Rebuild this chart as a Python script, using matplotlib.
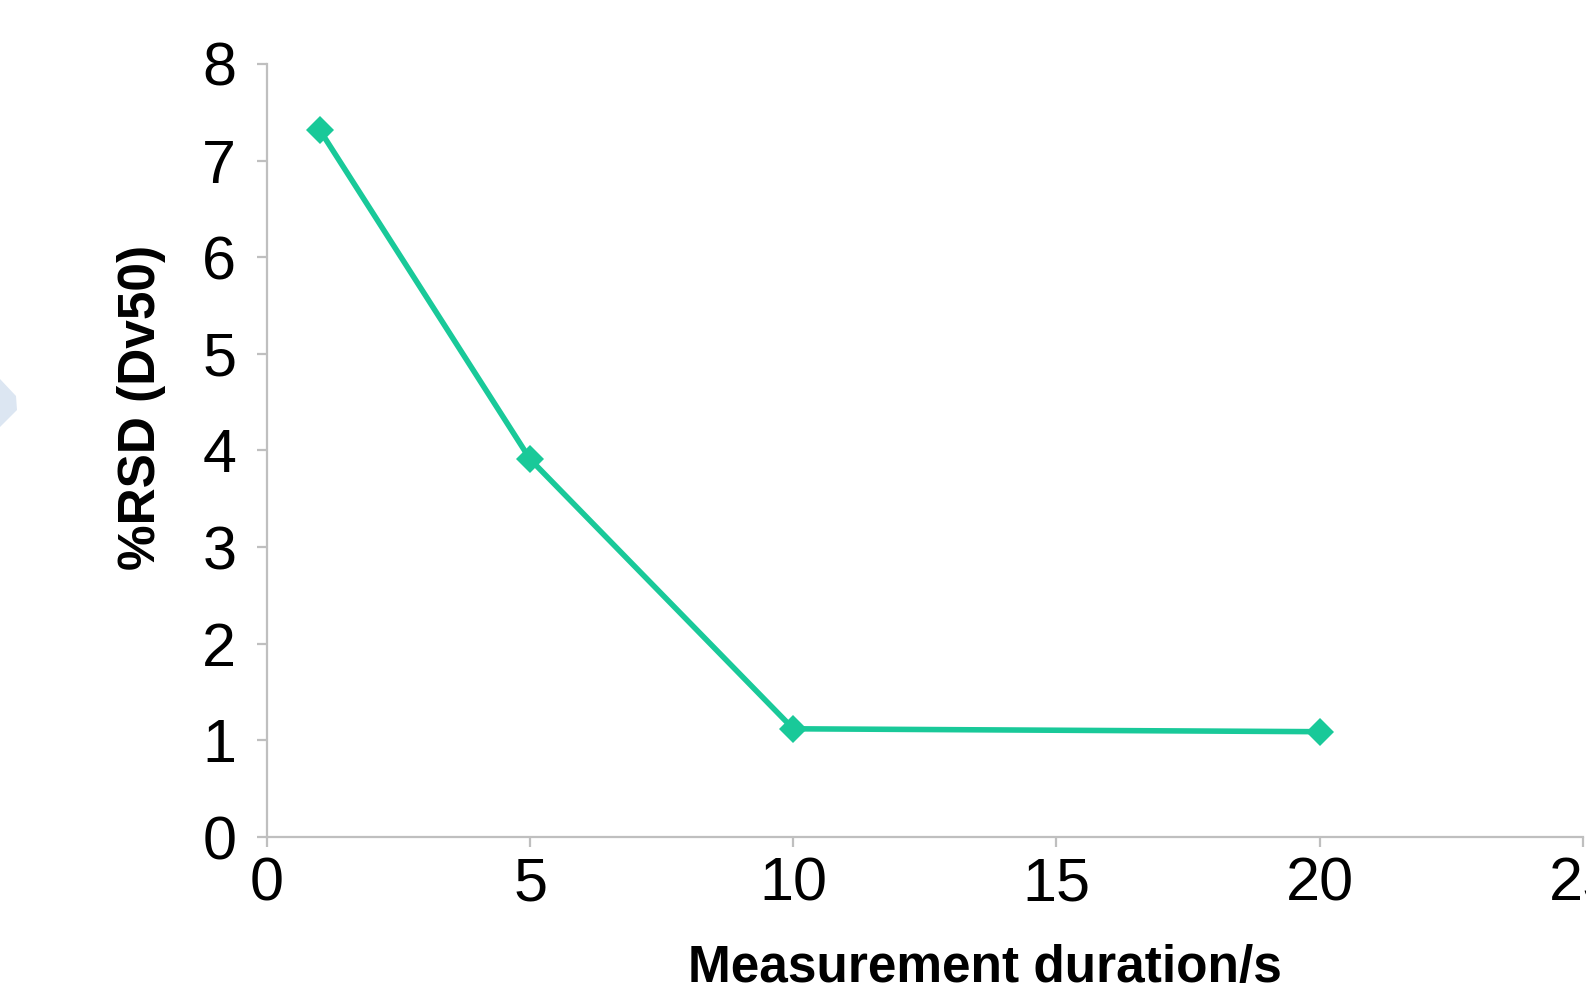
import matplotlib.pyplot as plt
from matplotlib.patches import Polygon

plt.rcParams['font.family'] = ['Liberation Sans', 'DejaVu Sans']

# measurement duration (s) vs %RSD of Dv50
duration = [1, 5, 10, 20]
rsd_dv50 = [7.32, 3.91, 1.12, 1.09]
x_ticks = [0, 5, 10, 15, 20, 25]
y_ticks = [0, 1, 2, 3, 4, 5, 6, 7, 8]

fig = plt.figure(figsize=(15.86, 9.98), dpi=100)
ax = fig.add_axes([0.1683, 0.1613, 0.8297, 0.7746])

line_col = '#19C999'
ax.plot(duration, rsd_dv50, color=line_col, linewidth=4, marker='D',
        markersize=14, markeredgewidth=0, solid_joinstyle='miter',
        clip_on=False)

ax.set_xlim(0, 25)
ax.set_ylim(0, 8)
ax.set_xticks(x_ticks)
ax.set_yticks(y_ticks)

axis_col = '#BFBFBF'
for side in ['top', 'right']:
    ax.spines[side].set_visible(False)
for side in ['left', 'bottom']:
    ax.spines[side].set_color(axis_col)
    ax.spines[side].set_linewidth(1.6)
ax.tick_params(axis='both', direction='out', length=7, width=1.6,
               color=axis_col, labelsize=44, labelcolor='black')
ax.tick_params(axis='x', pad=7)
ax.tick_params(axis='y', pad=15)

fig.text(0.621, 0.03, 'Measurement duration/s', ha='center', va='center',
         fontsize=37, fontweight='bold')
fig.text(0.089, 0.592, '%RSD (Dv50)', ha='center', va='center',
         rotation=90, fontsize=37, fontweight='bold')

# pale chevron cut off at the left edge
verts = [(x / 1586, 1 - y / 998) for x, y in [(0, 379), (16, 396), (17, 410), (0, 427)]]
chevron = Polygon(verts, closed=True, facecolor='#DCE6F2', edgecolor='none',
                  transform=fig.transFigure)
fig.patches.append(chevron)

fig.savefig('out.png', dpi=100)
